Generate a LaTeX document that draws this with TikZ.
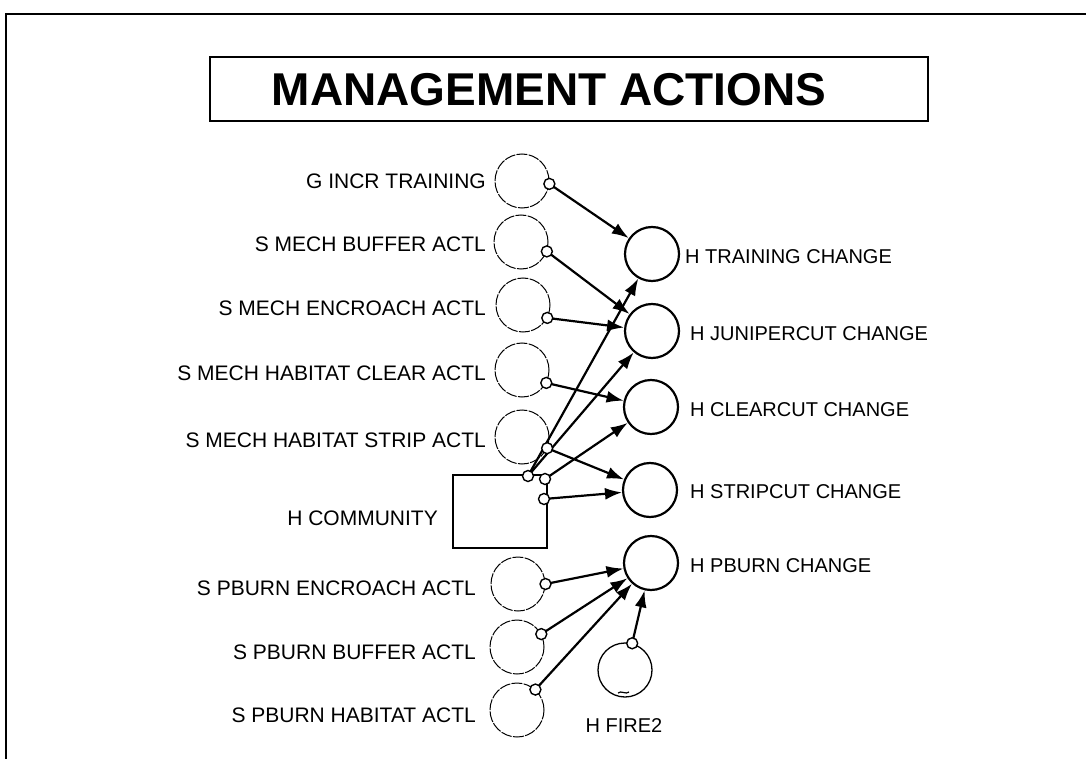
\documentclass[tikz,border=0pt]{standalone}
\usepackage{fontspec}
\setmainfont{Liberation Sans}
\usetikzlibrary{arrows.meta}
\pgfdeclarelayer{paper}
\pgfdeclarelayer{links}
\pgfsetlayers{paper,links,main}
\begin{document}
\begin{tikzpicture}[x=1pt,y=-1pt,
  lbl/.style={font=\fontsize{21}{25}\selectfont, inner sep=0pt},
  rlbl/.style={font=\fontsize{20}{24}\selectfont, inner sep=0pt, anchor=west},
  src/.style={circle, draw, line width=1pt, dash pattern=on 11pt off 1.3pt, minimum size=54pt, inner sep=0pt},
  tgt/.style={circle, draw, line width=2.2pt, minimum size=54pt, inner sep=0pt},
  port/.style={circle, draw, line width=1.4pt, fill=white, minimum size=11pt, inner sep=0pt},
  link/.style={line width=2.2pt, -{Latex[length=17pt,width=12pt]}},
]
\begin{pgfonlayer}{paper}
\fill[white] (0,0) rectangle (1086,759);
\end{pgfonlayer}
\useasboundingbox (0,0) rectangle (1086,759);
% page frame
\draw[line width=2.8pt] (6,759) -- (6,14) -- (1086,14);

% title
\draw[line width=1.8pt] (210,57) rectangle (928,121);
\node[inner sep=0pt, font=\fontsize{46}{54}\selectfont\bfseries] (title) at (549,90) {MANAGEMENT ACTIONS};

% source variables (left column)
\node[src] (gi)  at (522,181) {};
\node[src] (mb)  at (521,242) {};
\node[src] (me)  at (523,305) {};
\node[src] (mc)  at (522,370) {};
\node[src] (ms)  at (522,437) {};
\node[draw, line width=1.5pt, minimum width=94pt, minimum height=73pt, inner sep=0pt] (hc) at (500,511.5) {};
\node[src] (pe)  at (518,584) {};
\node[src] (pb)  at (517,647) {};
\node[src] (ph)  at (517,710) {};
\node[circle, draw, line width=1.3pt, minimum size=54pt, inner sep=0pt] (fire) at (625,670) {};
\draw[line width=1.2pt] (618,693) .. controls (621,690) and (626,695) .. (629,692);

% target variables (right column)
\node[tgt] (tr) at (652,254) {};
\node[tgt] (ju) at (652,331) {};
\node[tgt] (cl) at (651,407) {};
\node[tgt] (st) at (650,490) {};
\node[tgt] (pbc) at (651,563) {};

% labels
\node[lbl, anchor=east] (lgi) at (486,181) {G INCR TRAINING};
\node[lbl, anchor=east] (lmb) at (486,244) {S MECH BUFFER ACTL};
\node[lbl, anchor=east] (lme) at (486,308) {S MECH ENCROACH ACTL};
\node[lbl, anchor=east] (lmc) at (486,373) {S MECH HABITAT CLEAR ACTL};
\node[lbl, anchor=east] (lms) at (486,440) {S MECH HABITAT STRIP ACTL};
\node[lbl, anchor=east] (lhc) at (438,518) {H COMMUNITY};
\node[lbl, anchor=east] (lpe) at (476,588) {S PBURN ENCROACH ACTL};
\node[lbl, anchor=east] (lpb) at (476,652) {S PBURN BUFFER ACTL};
\node[lbl, anchor=east] (lph) at (476,715) {S PBURN HABITAT ACTL};
\node[rlbl, anchor=center] (lfire) at (624,726) {H FIRE2};
\node[rlbl] (ltr) at (685,257) {H TRAINING CHANGE};
\node[rlbl] (lju) at (690,334) {H JUNIPERCUT CHANGE};
\node[rlbl] (lcl) at (690,410) {H CLEARCUT CHANGE};
\node[rlbl] (lst) at (690,492) {H STRIPCUT CHANGE};
\node[rlbl] (lpbc) at (690,566) {H PBURN CHANGE};

% output ports
\node[port] (pgi) at (gi.-6) {};
\node[port] (pmb) at (mb.-20) {};
\node[port] (pme) at (me.-28) {};
\node[port] (pmc) at (mc.-28) {};
\node[port] (pms) at (ms.-24) {};
\node[port] (phc1) at (528,476) {};
\node[port] (phc2) at (545,479) {};
\node[port] (phc3) at (544,499) {};
\node[port] (ppe) at (pe.0) {};
\node[port] (ppb) at (pb.28) {};
\node[port] (pph) at (ph.48) {};
\node[port] (pfire) at (fire.75) {};

% influence links
\begin{pgfonlayer}{links}
\draw[link] (pgi.center) -- (tr);
\draw[link] (pmb.center) -- (ju);
\draw[link] (pme.center) -- (ju);
\draw[link] (pmc.center) -- (cl);
\draw[link] (pms.center) -- (st);
\draw[link] (phc1.center) -- (tr);
\draw[link] (phc1.center) -- (ju);
\draw[link] (phc2.center) -- (cl);
\draw[link] (phc3.center) -- (st);
\draw[link] (ppe.center) -- (pbc);
\draw[link] (ppb.center) -- (pbc);
\draw[link] (pph.center) -- (pbc);
\draw[link] (pfire.center) -- (pbc);
\end{pgfonlayer}
\end{tikzpicture}
\end{document}
